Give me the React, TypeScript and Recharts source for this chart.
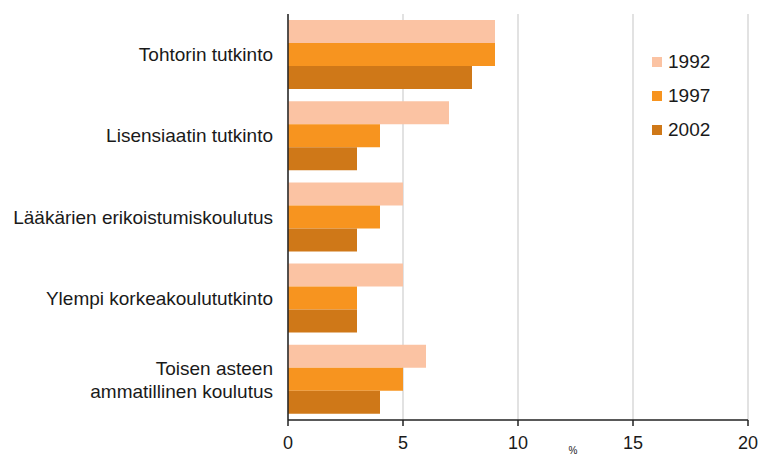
import React from 'react';
import { BarChart, Bar, XAxis, YAxis, CartesianGrid } from 'recharts';

const categories = [
  'Tohtorin tutkinto',
  'Lisensiaatin tutkinto',
  'Lääkärien erikoistumiskoulutus',
  'Ylempi korkeakoulututkinto',
  'Toisen asteen\nammatillinen koulutus',
];
const values1992 = [9, 7, 5, 5, 6];
const values1997 = [9, 4, 4, 3, 5];
const values2002 = [8, 3, 3, 3, 4];
const xTicks = [0, 5, 10, 15, 20];
const seriesNames = ['1992', '1997', '2002'];
const colors = ['#FBC3A3', '#F7941F', '#CF7818'];

const data = categories.map((c, i) => ({
  name: c,
  y1992: values1992[i],
  y1997: values1997[i],
  y2002: values2002[i],
}));

const FONT = 'Liberation Sans, Arial, sans-serif';

const YTick = (props: any) => {
  const { x, y, payload } = props;
  const lines = String(payload.value).split('\n');
  const lh = 23;
  const start = -((lines.length - 1) * lh) / 2;
  return (
    <text x={x - 7} y={y} textAnchor="end" fontFamily={FONT} fontSize={19} fill="#1a1a1a">
      {lines.map((l, i) => (
        <tspan key={i} x={x - 7} y={y + start + i * lh} dy="0.35em">
          {l}
        </tspan>
      ))}
    </text>
  );
};

export default function App() {
  return (
    <div style={{ position: 'absolute', left: 0, top: 0, width: 762, height: 456, background: '#fff' }}>
      <BarChart
        width={762}
        height={456}
        data={data}
        layout="vertical"
        margin={{ top: 14, right: 14, left: 0, bottom: 0 }}
        barCategoryGap={6}
        barGap={0}
      >
        <CartesianGrid horizontal={false} stroke="#d9d9d9" strokeWidth={1.5} />
        <XAxis
          type="number"
          domain={[0, 20]}
          ticks={xTicks}
          height={36}
          axisLine={{ stroke: '#222', strokeWidth: 1.5 }}
          tickLine={{ stroke: '#222', strokeWidth: 1.5 }}
          tickSize={6}
          tickMargin={10}
          tick={{ fontFamily: FONT, fontSize: 18, fill: '#1a1a1a' }}
        />
        <YAxis
          type="category"
          dataKey="name"
          width={288}
          axisLine={{ stroke: '#222', strokeWidth: 1.5 }}
          tickLine={false}
          tick={<YTick />}
          interval={0}
        />
        <Bar dataKey="y1992" fill={colors[0]} isAnimationActive={false} />
        <Bar dataKey="y1997" fill={colors[1]} isAnimationActive={false} />
        <Bar dataKey="y2002" fill={colors[2]} isAnimationActive={false} />
        <text x={573} y={454} textAnchor="middle" fontFamily={FONT} fontSize={10} fill="#1a1a1a">
          %
        </text>
      </BarChart>
      <div style={{ position: 'absolute', left: 652, top: 45, fontFamily: FONT, fontSize: 19, color: '#1a1a1a' }}>
        {seriesNames.map((n, i) => (
          <div key={n} style={{ display: 'flex', alignItems: 'center', height: 34 }}>
            <div style={{ width: 10, height: 10, background: colors[i], marginRight: 6 }} />
            <span>{n}</span>
          </div>
        ))}
      </div>
    </div>
  );
}
